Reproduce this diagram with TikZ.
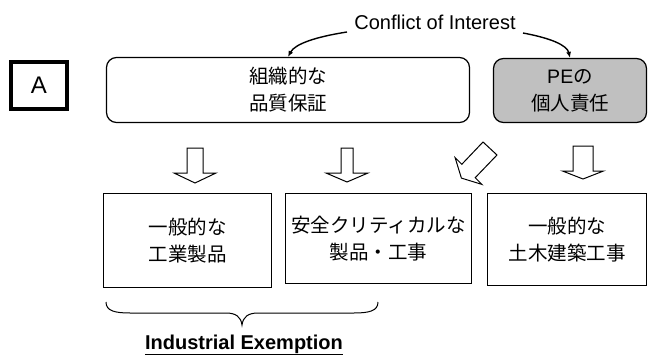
\documentclass[tikz,border=0pt]{standalone}
\usepackage{fontspec}
\setmainfont{Liberation Sans}
\newfontfamily\cjk{Noto Sans CJK JP}
\usetikzlibrary{arrows.meta}
\definecolor{boxgrey}{RGB}{192,192,192}
\begin{document}
\begin{tikzpicture}[x=1pt,y=-1pt,
  jtext/.style={font=\fontsize{19.5}{27}\selectfont\cjk, align=center},
  rbox/.style={draw, line width=1.2pt, rounded corners=10pt, inner sep=0pt, jtext},
  sbox/.style={draw, line width=1pt, inner sep=0pt, jtext},
  conn/.style={line width=1.4pt, -{Latex[length=6pt,width=5pt]}},
  hollow/.style={draw, line width=1pt, fill=white, line join=miter}
]
\useasboundingbox (0,0) rectangle (649,356);

% label A
\node[draw, line width=4pt, minimum width=56pt, minimum height=47pt, inner sep=0pt,
      font=\fontsize{24}{24}\selectfont] (a) at (39,85.5) {A};

% top boxes
\node[rbox, minimum width=363pt, minimum height=65pt] (wb) at (288,90) {組織的な\\品質保証};
\node[rbox, fill=boxgrey, minimum width=153pt, minimum height=64pt] (gb) at (570,90.5)
  {{\rmfamily PE}の\\個人責任};

% conflict label and arrows
\node[font=\fontsize{20}{20}\selectfont, inner sep=0pt] (conf) at (435,22) {Conflict of Interest};
\coordinate (cl) at (347,32);
\coordinate (cr) at (523,33);
\draw[conn] (cl) .. controls (315,37) and (295,44) .. (wb.north);
\draw[conn] (cr) .. controls (550,38) and (567,45) .. (gb.north);

% bottom boxes
\node[sbox, minimum width=168pt, minimum height=94pt] (b1) at (187.5,240.5) {一般的な\\工業製品};
\node[sbox, minimum width=186pt, minimum height=90pt] (b2) at (378.5,238.5) {安全クリティカルな\\製品・工事};
\node[sbox, minimum width=159pt, minimum height=92pt] (b3) at (567,239.5) {一般的な\\土木建築工事};

% hollow block arrows
\draw[hollow] (187,148) -- (203,148) -- (203,173) -- (216,173) -- (195,183) -- (174,173) -- (187,173) -- cycle;
\draw[hollow] (341,148) -- (353,148) -- (353,173) -- (368,173) -- (347,182) -- (326,173) -- (341,173) -- cycle;
\draw[hollow] (573,146) -- (593,146) -- (593,171) -- (603.5,171) -- (583,179) -- (562.5,171) -- (573,171) -- cycle;
\draw[hollow] (483,142) -- (497,155) -- (475.2,177.7) -- (481.9,184.4) -- (461.4,178.1) -- (455.1,157.6) -- (461.8,164.3) -- cycle;

% brace
\draw[line width=1pt] (106,302) .. controls (106,311) and (115,313) .. (130,313) -- (226,313)
  .. controls (236,313) and (241,317) .. (242,325)
  .. controls (243,317) and (248,313) .. (258,313) -- (354,313)
  .. controls (369,313) and (378,311) .. (378,302);

% Industrial Exemption
\node[font=\bfseries\fontsize{20}{20}\selectfont, inner sep=0pt, anchor=base] (ie) at (244,349) {Industrial Exemption};
\draw[line width=1.5pt] ([yshift=-1pt]ie.south west) -- ([yshift=-1pt]ie.south east);
\end{tikzpicture}
\end{document}
